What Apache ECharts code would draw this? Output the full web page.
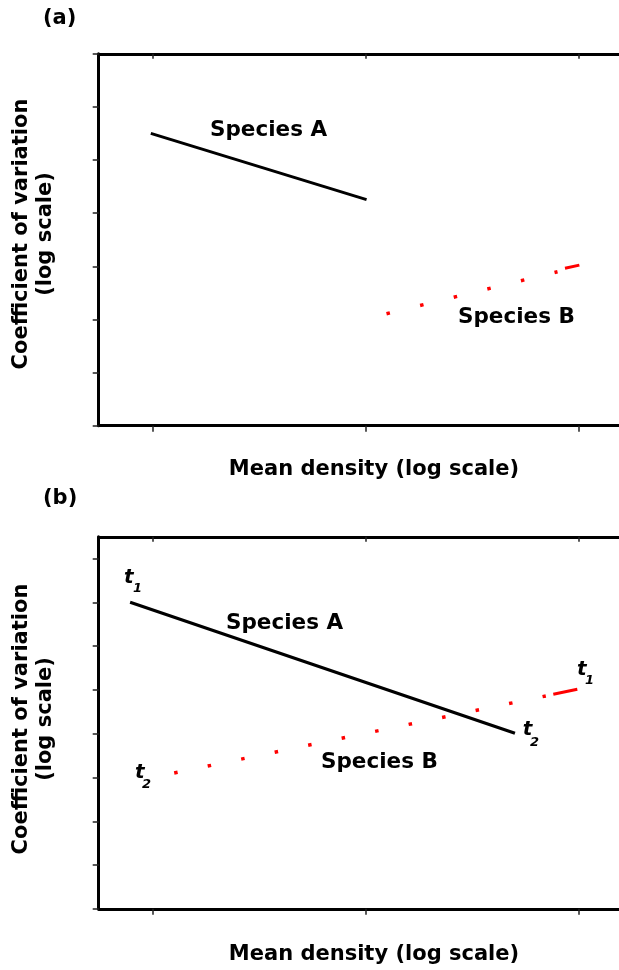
<!DOCTYPE html>
<html>
<head>
<meta charset="utf-8">
<script src="https://cdn.jsdelivr.net/npm/echarts@6.0.0/dist/echarts.min.js"></script>
<style>
html,body{margin:0;padding:0;background:#fff;}
#chart{width:619px;height:970px;}
</style>
</head>
<body>
<div id="chart"></div>
<script>
// ---- data (arbitrary log-scale units; x ticks at 1,2,3) ----
const xTicks = [1, 2, 3];
const topYTicks = [0, 1, 2, 3, 4, 5, 6, 7];
const bottomYTicks = [0, 1, 2, 3, 4, 5, 6, 7, 8];

const topSpeciesA = [[0.993, 5.503], [2.005, 4.255]];
const topSpeciesBDotted = [[2.0985, 2.108], [2.9006, 2.898]];
const topSpeciesBEnd = [[2.9357, 2.963], [3.003, 3.022]];

const bottomSpeciesA = [[0.896, 7.004], [2.701, 4.011]];
const bottomSpeciesBDotted = [[1.1027, 3.103], [2.8457, 4.863]];
const bottomSpeciesBEnd = [[2.8809, 4.902], [2.9934, 5.016]];

const panelLabels = ['(a)', '(b)'];
const speciesNames = ['Species A', 'Species B'];
const xTitle = 'Mean density (log scale)';
const yTitle = 'Coefficient of variation\n(log scale)';

// ---- chart ----
const XMIN = 0.7486, XMAX = 3.189;
const FONT = '"DejaVu Sans", "Liberation Sans", Arial, sans-serif';

function xAxisPair(gi) {
  return [
    { type: 'value', gridIndex: gi, position: 'bottom', min: XMIN, max: XMAX,
      axisLine: { show: true, onZero: false, lineStyle: { color: '#000', width: 3 } },
      axisTick: { show: true, customValues: xTicks, length: 6, lineStyle: { color: '#222', width: 1.5 } },
      axisLabel: { show: false }, splitLine: { show: false } },
    { type: 'value', gridIndex: gi, position: 'top', min: XMIN, max: XMAX,
      axisLine: { show: true, onZero: false, lineStyle: { color: '#000', width: 3 } },
      axisTick: { show: true, inside: true, customValues: xTicks, length: 5, lineStyle: { color: '#222', width: 1.5 } },
      axisLabel: { show: false }, splitLine: { show: false } }
  ];
}
function yAxis(gi, max, ticks) {
  return { type: 'value', gridIndex: gi, position: 'left', min: 0, max: max,
    axisLine: { show: true, onZero: false, lineStyle: { color: '#000', width: 3 } },
    axisTick: { show: true, customValues: ticks, length: 6, lineStyle: { color: '#222', width: 1.5 } },
    axisLabel: { show: false }, splitLine: { show: false } };
}
function seg(data, xi, yi, color, dash, w) {
  return { type: 'line', data: data, xAxisIndex: xi, yAxisIndex: yi, showSymbol: false, symbol: 'none',
    silent: true, animation: false, clip: false,
    lineStyle: { color: color, width: w || 3, type: dash || 'solid', cap: 'butt' } };
}
function txt(s, x, y, size, opts) {
  opts = opts || {};
  return { type: 'text', x: x, y: y, rotation: opts.rot || 0, silent: true,
    style: { text: s, fill: '#000', fontSize: size, fontWeight: 'bold', fontStyle: opts.italic ? 'italic' : 'normal',
      fontFamily: FONT, textAlign: opts.align || 'left', align: opts.align || 'left',
      textVerticalAlign: 'middle', verticalAlign: 'middle', lineHeight: opts.lh || size * 1.15 } };
}
function tLabel(sub, x, baseline, subX, subBaseline) {
  return [txt('t', x, baseline - 7, 20, { italic: true }), txt(sub, subX, subBaseline - 4.5, 13, { italic: true })];
}

const chart = echarts.init(document.getElementById('chart'), null, { renderer: 'canvas' });
chart.setOption({
  backgroundColor: '#fff',
  animation: false,
  grid: [
    { left: 98.7, right: 0, top: 53.8, bottom: 970 - 425.7 },
    { left: 98.7, right: 0, top: 536.8, bottom: 970 - 908.8 }
  ],
  xAxis: xAxisPair(0).concat(xAxisPair(1)),
  yAxis: [yAxis(0, 7, topYTicks), yAxis(1, 8.5, bottomYTicks)],
  series: [
    seg(topSpeciesA, 0, 0, '#000'),
    seg(topSpeciesBDotted, 0, 0, '#ff0000', [3.5, 31.1], 3.5),
    seg(topSpeciesBEnd, 0, 0, '#ff0000'),
    seg(bottomSpeciesA, 2, 1, '#000'),
    seg(bottomSpeciesBDotted, 2, 1, '#ff0000', [3.5, 30.7], 3.5),
    seg(bottomSpeciesBEnd, 2, 1, '#ff0000')
  ],
  graphic: [
    txt(panelLabels[0], 43, 19, 21),
    txt(panelLabels[1], 43, 499, 21),
    txt(speciesNames[0], 210, 130, 21.5),
    txt(speciesNames[1], 458, 317, 21.5),
    txt(speciesNames[0], 226, 623, 21.5),
    txt(speciesNames[1], 321, 762, 21.5),
    txt(xTitle, 374, 470, 21, { align: 'center' }),
    txt(xTitle, 374, 955, 21, { align: 'center' }),
    txt(yTitle, 34, 234, 21, { align: 'center', rot: Math.PI / 2, lh: 24 }),
    txt(yTitle, 34, 719, 21, { align: 'center', rot: Math.PI / 2, lh: 24 })
  ].concat(
    tLabel('1', 124, 585, 133, 593),
    tLabel('2', 135, 780, 142, 789),
    tLabel('2', 522.7, 737, 530, 747),
    tLabel('1', 577, 677, 585, 685)
  )
});
</script>
</body>
</html>
